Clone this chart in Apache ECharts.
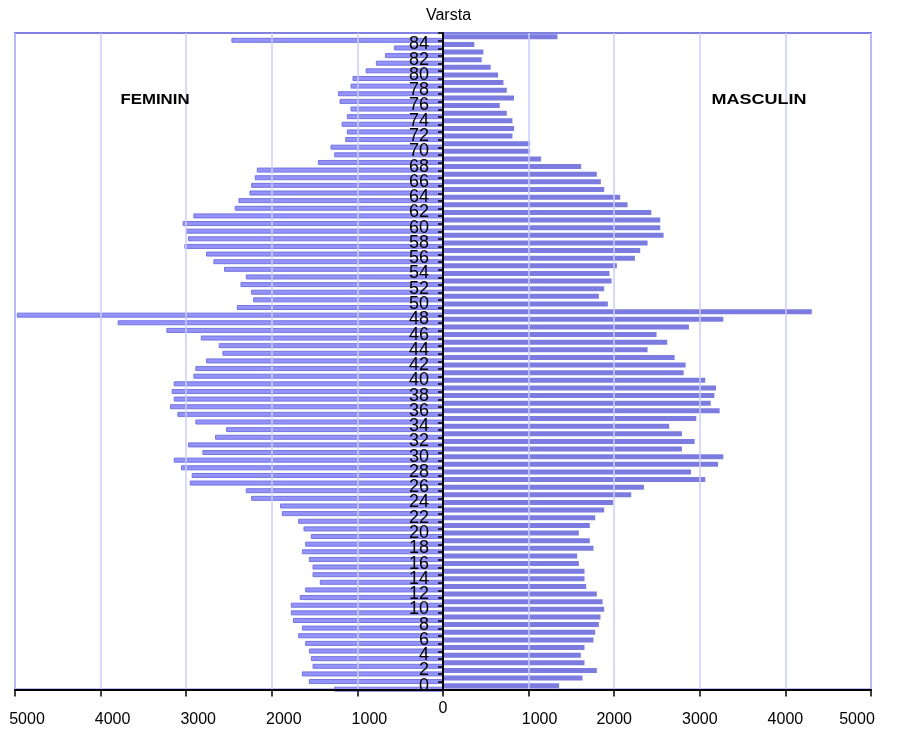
<!DOCTYPE html>
<html>
<head>
<meta charset="utf-8">
<script src="https://cdn.jsdelivr.net/npm/echarts@6.0.0/dist/echarts.min.js"></script>
<style>
html,body{margin:0;padding:0;background:#ffffff;}
#chart{width:897px;height:740px;}
</style>
</head>
<body>
<div id="chart"></div>
<script>
// Age categories (bottom to top)
const ages = ['0','1','2','3','4','5','6','7','8','9','10','11','12','13','14','15','16','17','18','19',
  '20','21','22','23','24','25','26','27','28','29','30','31','32','33','34','35','36','37','38','39',
  '40','41','42','43','44','45','46','47','48','49','50','51','52','53','54','55','56','57','58','59',
  '60','61','62','63','64','65','66','67','68','69','70','71','72','73','74','75','76','77','78','79',
  '80','81','82','83','84','85'];

// Ages that carry a label on the central axis
const ageTickLabels = ['0','2','4','6','8','10','12','14','16','18','20','22','24','26','28','30','32','34','36','38','40',
  '42','44','46','48','50','52','54','56','58','60','62','64','66','68','70','72','74','76','78','80','82','84'];

// FEMININ (left side), ages 0..85
const feminin = [1271,1567,1649,1524,1544,1567,1610,1692,1649,1754,
  1778,1778,1673,1610,1439,1524,1524,1567,1649,1610,
  1544,1630,1692,1883,1903,2242,2304,2959,2936,3061,
  3146,2811,2979,2663,2534,2893,3103,3189,3146,3170,
  3146,2916,2893,2768,2577,2620,2830,3232,3801,4979,
  2409,2218,2242,2366,2304,2558,2682,2768,3021,2979,
  3002,3041,2916,2433,2390,2261,2242,2199,2175,1462,
  1271,1314,1142,1123,1185,1123,1080,1209,1228,1080,
  1057,904,784,678,573,2472];

// MASCULIN (right side), ages 0..85
const masculin = [1357,1630,1797,1653,1610,1653,1758,1778,1821,1840,
  1883,1864,1797,1673,1653,1653,1587,1567,1758,1715,
  1587,1715,1778,1883,1988,2199,2347,3064,2897,3213,
  3275,2791,2940,2791,2643,2959,3232,3127,3170,3189,
  3064,2811,2834,2706,2390,2620,2495,2873,3275,4308,
  1926,1821,1883,1969,1945,2031,2242,2304,2390,2577,
  2538,2538,2433,2156,2070,1883,1844,1797,1614,1146,
  1018,1018,811,830,811,745,663,830,745,706,
  643,557,452,472,366,1337];

// Bottom axis tick labels (from -5000 to 5000)
const xTickLabels = ['5000','4000','3000','2000','1000','0','1000','2000','3000','4000','5000'];
const xTickStyles = ['l','l','l','l','l','z','r1','r','r','r','r5'];

const titleText = 'Varsta';
const sideLabels = ['FEMININ', 'MASCULIN'];

const chart = echarts.init(document.getElementById('chart'), null, {renderer: 'canvas'});
const FONT = 'Liberation Sans, Arial, sans-serif';

const W = 897, H = 740;
const PL = 15, PR = 871, PT = 33, PB = 689.5;
const CX = (PL + PR) / 2;

function ageLabelAxis(parity, showLine) {
  return {
    gridIndex: 1, type: 'category', data: ages, z: 10, position: 'left', offset: 0,
    axisLine: {show: showLine, onZero: false, lineStyle: {color: '#000', width: 2}},
    axisTick: {show: showLine, interval: 0, length: 5, lineStyle: {color: '#000', width: 1.5}},
    axisLabel: {
      show: true, margin: 14, hideOverlap: false,
      showMinLabel: parity === 0 ? true : null,
      interval: function (idx, val) {
        const k = ageTickLabels.indexOf(val);
        return k >= 0 && k % 2 === parity;
      },
      color: '#000', fontFamily: FONT, fontSize: 18
    },
    splitLine: {show: false}
  };
}

const option = {
  backgroundColor: '#ffffff',
  animation: false,
  title: {
    text: titleText,
    left: 'center',
    top: 3,
    textStyle: {fontFamily: FONT, fontSize: 16, fontWeight: 'normal', color: '#000'}
  },
  grid: [
    // full plot frame
    {left: PL, right: W - PR, top: PT, bottom: H - PB, show: true, borderColor: '#8080E0', borderWidth: 2,
     backgroundColor: 'transparent', outerBoundsMode: 'none'},
    // MASCULIN half
    {left: CX, right: W - PR, top: PT, bottom: H - PB, show: false, outerBoundsMode: 'none'},
    // FEMININ half (slightly lower)
    {left: PL, right: W - CX, top: PT + 3.5, bottom: H - PB - 3.5, show: false, outerBoundsMode: 'none'}
  ],
  xAxis: [
    {
      gridIndex: 0, type: 'value', min: -5000, max: 5000, interval: 1000, z: 10,
      axisLine: {show: true, onZero: false, lineStyle: {color: '#000', width: 2}},
      axisTick: {show: true, length: 7, lineStyle: {color: '#000', width: 1.5}},
      splitLine: {show: true, lineStyle: {color: '#CCCCFF', width: 1.5}},
      axisLabel: {
        show: true, margin: 11, color: '#000', fontFamily: FONT, fontSize: 16,
        formatter: function (v) {
          const i = Math.round((v + 5000) / 1000);
          return '{' + xTickStyles[i] + '|' + xTickLabels[i] + '}';
        },
        rich: {
          l: {fontFamily: FONT, fontSize: 16, color: '#000', padding: [11, 0, 0, 24]},
          z: {fontFamily: FONT, fontSize: 16, color: '#000', padding: [0, 0, 0, 0]},
          r1: {fontFamily: FONT, fontSize: 16, color: '#000', padding: [11, 0, 0, 22]},
          r: {fontFamily: FONT, fontSize: 16, color: '#000', padding: [11, 0, 0, 0]},
          r5: {fontFamily: FONT, fontSize: 16, color: '#000', padding: [11, 28, 0, 0]}
        }
      }
    },
    {gridIndex: 1, type: 'value', min: 0, max: 5000, show: false, splitLine: {show: false}},
    {gridIndex: 2, type: 'value', min: 0, max: 5000, inverse: true, show: false, splitLine: {show: false}}
  ],
  yAxis: [
    {gridIndex: 0, type: 'category', data: ages, show: false},
    ageLabelAxis(0, true),
    {gridIndex: 2, type: 'category', data: ages, show: false},
    ageLabelAxis(1, false)
  ],
  series: [
    {
      name: 'FEMININ', type: 'bar', xAxisIndex: 2, yAxisIndex: 2, barWidth: 5,
      data: feminin,
      itemStyle: {color: '#9393FA', borderColor: '#7474E0', borderWidth: 1}
    },
    {
      name: 'MASCULIN', type: 'bar', xAxisIndex: 1, yAxisIndex: 1, barWidth: 5,
      data: masculin,
      itemStyle: {color: '#7B7BE0'}
    }
  ],
  graphic: [
    {type: 'text', x: 155, y: 100, scaleX: 1.12, z: 20,
     style: {text: sideLabels[0], font: 'bold 15px ' + FONT, fill: '#000', align: 'center', verticalAlign: 'middle'}},
    {type: 'text', x: 759, y: 100, scaleX: 1.2, z: 20,
     style: {text: sideLabels[1], font: 'bold 15px ' + FONT, fill: '#000', align: 'center', verticalAlign: 'middle'}}
  ]
};
chart.setOption(option);
</script>
</body>
</html>
